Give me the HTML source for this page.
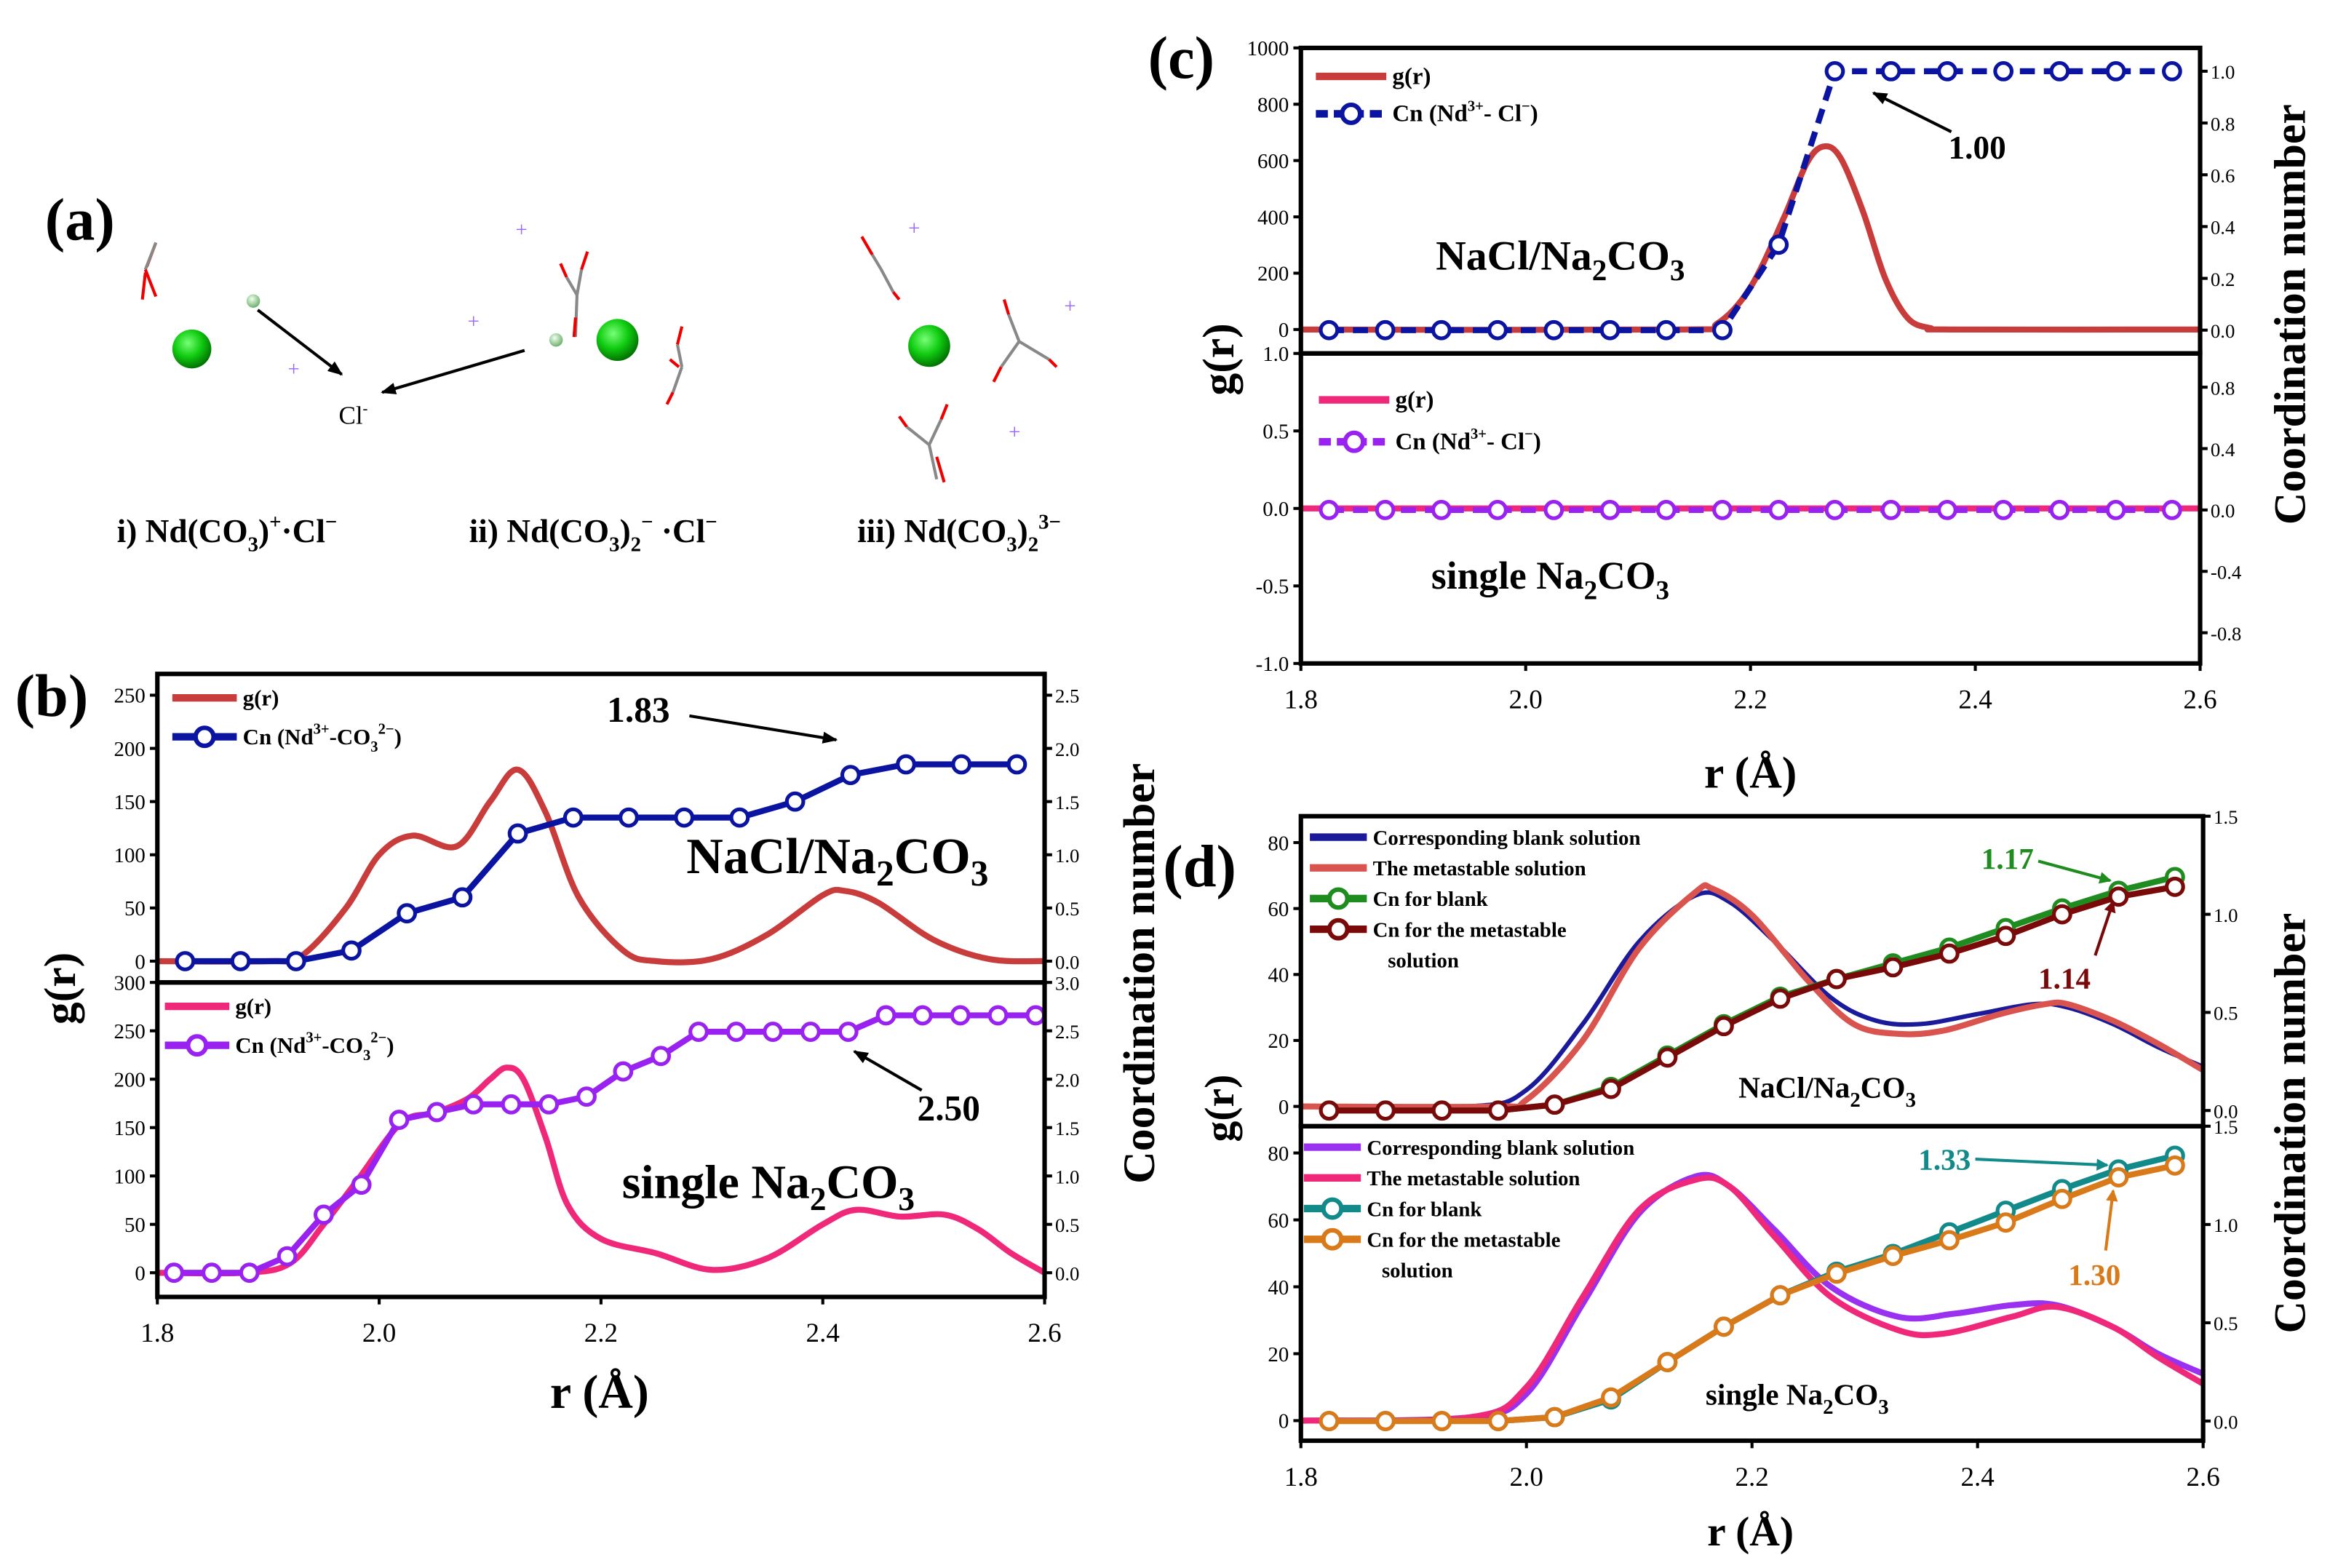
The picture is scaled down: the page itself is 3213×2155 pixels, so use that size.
<!DOCTYPE html>
<html><head><meta charset="utf-8">
<style>
html,body{margin:0;padding:0;background:#fff;}
svg{display:block;}
text{font-family:"Liberation Serif",serif;}
</style></head>
<body>
<svg id="fig" width="3213" height="2155" viewBox="0 0 1560 1047" preserveAspectRatio="none" xmlns="http://www.w3.org/2000/svg">
<rect width="1560" height="1047" fill="#fff"/>
<defs>
<marker id="ah" markerWidth="8" markerHeight="8" refX="7" refY="4" orient="auto" markerUnits="userSpaceOnUse"><path d="M0,0 L8,4 L0,8 Z" fill="context-stroke"/></marker>
<marker id="ahk" markerWidth="10" markerHeight="10" refX="9" refY="5" orient="auto" markerUnits="userSpaceOnUse"><path d="M0,1 L10,5 L0,9 Z" fill="#000"/></marker>
<radialGradient id="gs" cx="0.4" cy="0.35" r="0.7"><stop offset="0" stop-color="#7f7"/><stop offset="0.5" stop-color="#1c1"/><stop offset="1" stop-color="#060"/></radialGradient>
<radialGradient id="gs2" cx="0.4" cy="0.35" r="0.7"><stop offset="0" stop-color="#efe"/><stop offset="1" stop-color="#6a6"/></radialGradient>
</defs>

<!-- Panel a -->
<g>
<text x="30" y="160" font-size="40" font-weight="bold">(a)</text>
<circle cx="128" cy="233" r="13" fill="url(#gs)"/>
<circle cx="169" cy="201" r="4.5" fill="url(#gs2)"/>
<circle cx="412" cy="227" r="14" fill="url(#gs)"/>
<circle cx="371" cy="227" r="4.5" fill="url(#gs2)"/>
<circle cx="620" cy="231" r="14" fill="url(#gs)"/>
<g stroke-width="2" fill="none">
<path d="M98,178 L104,162" stroke="#e00"/><path d="M97,180 L104,162" stroke="#888"/><path d="M97,180 L104,198 M97,182 L95,200" stroke="#e00"/>
<path d="M385,197 L388,180 M385,197 L378,185 M385,197 L384,225" stroke="#888"/><path d="M388,180 L392,168 M378,185 L374,176 M384,212 L383,225" stroke="#e00"/>
<path d="M455,245 L452,230 M455,245 L449,262" stroke="#888"/><path d="M452,230 L455,218 M449,262 L445,270 M453,245 L447,240" stroke="#e00"/>
<path d="M588,180 L582,170 M588,180 L596,195" stroke="#888"/><path d="M582,170 L575,158 M596,195 L600,200" stroke="#e00"/>
<path d="M680,228 L673,210 M680,228 L700,240 M680,228 L668,245" stroke="#888"/><path d="M673,210 L670,200 M700,240 L705,245 M668,245 L663,255" stroke="#e00"/>
<path d="M620,297 L628,280 M620,297 L605,285 M620,297 L625,320" stroke="#888"/><path d="M628,280 L632,270 M605,285 L600,278 M625,305 L630,322" stroke="#e00"/>
</g>
<g fill="#96f" font-size="14" font-family="Liberation Sans,sans-serif">
<text x="344" y="158">+</text><text x="312" y="219">+</text><text x="192" y="251">+</text><text x="606" y="157">+</text><text x="710" y="209">+</text><text x="673" y="293">+</text>
</g>
<line x1="172" y1="207" x2="228" y2="250" stroke="#000" stroke-width="2" marker-end="url(#ahk)"/>
<line x1="350" y1="234" x2="255" y2="262" stroke="#000" stroke-width="2" marker-end="url(#ahk)"/>
<text x="226" y="283" font-size="17">Cl<tspan font-size="10" dy="-7">-</tspan></text>
<g font-size="22" font-weight="bold">
<text x="78" y="362">i) Nd(CO<tspan font-size="14" dy="6">3</tspan><tspan dy="-6">)</tspan><tspan font-size="14" dy="-9">+</tspan><tspan dy="9">·Cl</tspan><tspan font-size="14" dy="-9">−</tspan></text>
<text x="313" y="362">ii) Nd(CO<tspan font-size="14" dy="6">3</tspan><tspan dy="-6">)</tspan><tspan font-size="14" dy="6">2</tspan><tspan font-size="14" dy="-15">−</tspan><tspan dy="9"> ·Cl</tspan><tspan font-size="14" dy="-9">−</tspan></text>
<text x="572" y="362">iii) Nd(CO<tspan font-size="14" dy="6">3</tspan><tspan dy="-6">)</tspan><tspan font-size="14" dy="6">2</tspan><tspan font-size="14" dy="-15">3−</tspan></text>
</g>
</g>
<g id="charts"></g>
</svg>
<script>
// ---------- DATA ----------
const cnR16 = [1.825,1.875,1.925,1.975,2.025,2.075,2.125,2.175,2.225,2.275,2.325,2.375,2.425,2.475,2.525,2.575];
const xTicks = [1.8,2.0,2.2,2.4,2.6];
const xTickLabels = ["1.8","2.0","2.2","2.4","2.6"];
// panel b top
const bTopGrR = [1.80,1.90,1.93,1.97,2.00,2.03,2.07,2.10,2.125,2.15,2.18,2.22,2.25,2.30,2.35,2.40,2.42,2.45,2.50,2.55,2.60];
const bTopGrV = [0,0,5,50,100,118,108,150,180,140,60,10,0,2,25,62,66,55,20,2,0];
const bTopCn = [0,0,0,0.1,0.45,0.6,1.2,1.35,1.35,1.35,1.35,1.5,1.75,1.85,1.85,1.85];
// panel b bottom
const bBotGrR = [1.80,1.88,1.92,1.95,1.98,2.02,2.05,2.08,2.10,2.115,2.13,2.15,2.17,2.20,2.25,2.30,2.35,2.40,2.43,2.47,2.51,2.54,2.57,2.60];
const bBotGrV = [0,0,10,50,95,155,165,180,200,212,200,140,70,35,20,3,15,50,65,58,60,45,20,0];
const bBotCnR = [1.815,1.849,1.883,1.917,1.950,1.984,2.018,2.052,2.085,2.119,2.153,2.187,2.220,2.254,2.288,2.322,2.355,2.389,2.423,2.457,2.490,2.524,2.558,2.592];
const bBotCn = [0,0,0,0.17,0.6,0.91,1.58,1.66,1.74,1.74,1.74,1.82,2.08,2.24,2.49,2.49,2.49,2.49,2.49,2.66,2.66,2.66,2.66,2.66];
// panel c
const cTopGrR = [1.8,2.14,2.17,2.2,2.23,2.25,2.265,2.28,2.30,2.32,2.34,2.36,2.38,2.6];
const cTopGrV = [0,0,20,150,400,590,650,610,420,180,40,5,0,0];
const cTopCn = [0,0,0,0,0,0,0,0,0.33,1,1,1,1,1,1,1];
const cBotGrR = [1.8,2.6];
const cBotGrV = [0,0];
const cBotCn = [0,0,0,0,0,0,0,0,0,0,0,0,0,0,0,0];
// panel d top
const dTopBlankR = [1.8,1.95,2.0,2.05,2.10,2.15,2.18,2.22,2.27,2.31,2.35,2.40,2.45,2.48,2.52,2.56,2.6];
const dTopBlankV = [0,0,5,25,50,64,62,50,33,26,25,28,31,30,25,18,12];
const dTopMetaR = [1.8,1.97,2.0,2.05,2.10,2.15,2.165,2.2,2.25,2.29,2.33,2.37,2.42,2.46,2.48,2.52,2.56,2.6];
const dTopMetaV = [0,0,2,20,48,65,66,58,38,25,22,23,28,31,31,26,19,11];
const dTopCnBlank = [0,0,0,0,0.03,0.12,0.28,0.44,0.58,0.67,0.75,0.83,0.93,1.03,1.12,1.19];
const dTopCnMeta = [0,0,0,0,0.03,0.11,0.27,0.43,0.57,0.67,0.73,0.80,0.89,1.0,1.09,1.14];
// panel d bottom
const dBotBlankR = [1.8,1.95,2.0,2.05,2.10,2.15,2.18,2.22,2.27,2.33,2.38,2.43,2.47,2.52,2.56,2.6];
const dBotBlankV = [0,1,8,35,62,73,70,57,40,31,32,34.5,34.5,28,20,14];
const dBotMetaR = [1.8,1.95,2.0,2.05,2.10,2.15,2.18,2.22,2.27,2.33,2.37,2.43,2.47,2.52,2.56,2.6];
const dBotMetaV = [0,1,10,37,63,72,70,55,37,27,26,31,34,28,19,11];
const dBotCnBlank = [0,0,0,0,0.02,0.11,0.3,0.48,0.64,0.76,0.85,0.96,1.07,1.18,1.28,1.35];
const dBotCnMeta = [0,0,0,0,0.02,0.12,0.3,0.48,0.64,0.75,0.84,0.92,1.01,1.13,1.24,1.30];
// tick label arrays
const bTopL = [0,50,100,150,200,250], bTopRt = [0,0.5,1,1.5,2,2.5];
const bBotL = [0,50,100,150,200,250,300], bBotRt = [0,0.5,1,1.5,2,2.5,3];
const cTopL = [0,200,400,600,800,1000], cTopRt = [0,0.2,0.4,0.6,0.8,1.0];
const cBotL = [-1,-0.5,0,0.5,1], cBotRt = [-0.8,-0.4,0,0.4,0.8];
const dL = [0,20,40,60,80], dRt = [0,0.5,1,1.5];

// ---------- DRAW ----------
const NS = "http://www.w3.org/2000/svg";
const root = document.getElementById('charts');
function el(tag, attrs, parent){const e=document.createElementNS(NS,tag);for(const k in attrs)e.setAttribute(k,attrs[k]);(parent||root).appendChild(e);return e;}
function txt(x,y,s,size,anchor,parent,extra){const t=el('text',Object.assign({x:x,y:y,'font-size':size,'text-anchor':anchor||'start'},extra||{}),parent);t.textContent=s;return t;}
function smooth(pts){let d='M'+pts[0][0]+','+pts[0][1];for(let i=0;i<pts.length-1;i++){const p0=pts[i-1]||pts[i],p1=pts[i],p2=pts[i+1],p3=pts[i+2]||p2;const c1x=p1[0]+(p2[0]-p0[0])/6,c1y=p1[1]+(p2[1]-p0[1])/6,c2x=p2[0]-(p3[0]-p1[0])/6,c2y=p2[1]-(p3[1]-p1[1])/6;d+=' C'+c1x+','+c1y+' '+c2x+','+c2y+' '+p2[0]+','+p2[1];}return d;}
function fmt(v,dec){return v.toFixed(dec);}

function panel(cfg){
  const g=el('g',{});
  
  
  const X=r=>cfg.x0+(r-1.8)/0.8*(cfg.x1-cfg.x0);
  const YL=v=>cfg.yb-(v-cfg.lmin)/(cfg.lmax-cfg.lmin)*(cfg.yb-cfg.yt);
  const YR=v=>cfg.yb-(v-cfg.rmin)/(cfg.rmax-cfg.rmin)*(cfg.yb-cfg.yt);
  cfg.lt.forEach(v=>{const y=YL(v);el('line',{x1:cfg.x0,x2:cfg.x0-5,y1:y,y2:y,stroke:'#000','stroke-width':2},g);
    const t=txt(cfg.x0-8,y+5,fmt(v,cfg.ldec),14,'end',g);});
  cfg.rt.forEach(v=>{const y=YR(v);el('line',{x1:cfg.x1,x2:cfg.x1+5,y1:y,y2:y,stroke:'#000','stroke-width':2},g);
    const t=txt(cfg.x1+7,y+5,fmt(v,1),13,'start',g);});
  cfg.lines.forEach(s=>{const pts=s.r.map((r,i)=>[X(r),YL(s.v[i])]);
    const p=el('path',{d:smooth(pts),fill:'none',stroke:s.c,'stroke-width':s.w||4},g);
    });
  cfg.cns.forEach(s=>{const pts=s.r.map((r,i)=>[X(r),YR(s.v[i])]);
    const p=el('polyline',{points:pts.map(q=>q.join(',')).join(' '),fill:'none',stroke:s.c,'stroke-width':4},g);
    if(s.dash)p.setAttribute('stroke-dasharray','10,6');
    
    pts.forEach(q=>{const c=el('circle',{cx:q[0],cy:q[1],r:s.mr||5.5,fill:'#fff',stroke:s.c,'stroke-width':2.5},g);
      });});
  el('rect',{x:cfg.x0,y:cfg.yt,width:cfg.x1-cfg.x0,height:cfg.yb-cfg.yt,fill:'none',stroke:'#000','stroke-width':3},g);
  cfg.legend.forEach((L,i)=>{const y=cfg.ly+i*cfg.lstep;
    el('line',{x1:cfg.lx,x2:cfg.lx+cfg.lw,y1:y,y2:y,stroke:L.c,'stroke-width':5,'stroke-dasharray':L.dash?'8,4':'none'},g);
    if(L.m)el('circle',{cx:cfg.lx+cfg.lw/2,cy:y,r:6,fill:'#fff',stroke:L.c,'stroke-width':3},g);
    const t=el('text',{x:cfg.lx+cfg.lw+4,y:y+5,'font-size':cfg.lfs||16,'font-weight':'bold'},g);t.innerHTML=L.t;
    
    if(L.t2){const t2=el('text',{x:cfg.lx+cfg.lw+14,y:y+5+cfg.lstep,'font-size':cfg.lfs||16,'font-weight':'bold'},g);t2.textContent=L.t2;}
  });
  if(cfg.xaxis){xTicks.forEach((v,i)=>{const x=X(v);el('line',{x1:x,x2:x,y1:cfg.yb,y2:cfg.yb+5,stroke:'#000','stroke-width':2},g);
    const t=txt(x,cfg.yb+30,xTickLabels[i],18,'middle',g);});}
  return g;
}
const red='#c83c3c', blue='#0a14a0';
panel({name:'panel-b-top',x0:105,x1:697,yt:450,yb:656,lmin:-20,lmax:270,rmin:-0.2,rmax:2.7,lt:bTopL,ldec:0,rt:bTopRt,
  lines:[{r:bTopGrR,v:bTopGrV,c:red,name:'b-top-gr-line'}],cns:[{r:cnR16,v:bTopCn,c:blue,name:'b-top-cn'}],
  legend:[{c:red,t:'g(r)'},{c:blue,m:1,t:'Cn (Nd<tspan font-size="10" dy="-7">3+</tspan><tspan dy="7">-CO</tspan><tspan font-size="10" dy="5">3</tspan><tspan font-size="10" dy="-12">2−</tspan><tspan dy="7">)</tspan>'}],lx:115,ly:466,lstep:26,lw:43,lfs:15});
panel({name:'panel-b-bottom',x0:105,x1:697,yt:656,yb:866,lmin:-25,lmax:300,rmin:-0.25,rmax:3.0,lt:bBotL,ldec:0,rt:bBotRt,xaxis:1,
  lines:[{r:bBotGrR,v:bBotGrV,c:'#f0287a',name:'b-bottom-gr-line'}],cns:[{r:bBotCnR,v:bBotCn,c:'#9a22f0',name:'b-bottom-cn'}],
  legend:[{c:'#f0287a',t:'g(r)'},{c:'#9a22f0',m:1,t:'Cn (Nd<tspan font-size="10" dy="-7">3+</tspan><tspan dy="7">-CO</tspan><tspan font-size="10" dy="5">3</tspan><tspan font-size="10" dy="-12">2−</tspan><tspan dy="7">)</tspan>'}],lx:110,ly:672,lstep:26,lw:43,lfs:15});
panel({name:'panel-c-top',x0:868,x1:1468,yt:32,yb:236,lmin:-85,lmax:1000,rmin:-0.09,rmax:1.09,lt:cTopL,ldec:0,rt:cTopRt,
  lines:[{r:cTopGrR,v:cTopGrV,c:red,name:'c-top-gr-line'}],cns:[{r:cnR16,v:cTopCn,c:blue,dash:1,name:'c-top-cn'}],
  legend:[{c:red,t:'g(r)'},{c:blue,m:1,dash:1,t:'Cn (Nd<tspan font-size="10" dy="-7">3+</tspan><tspan dy="7">- Cl</tspan><tspan font-size="10" dy="-7">−</tspan><tspan dy="7">)</tspan>'}],lx:878,ly:51,lstep:25,lw:47,lfs:16});
panel({name:'panel-c-bottom',x0:868,x1:1468,yt:236,yb:443,lmin:-1.0,lmax:1.0,rmin:-1.0,rmax:1.02,lt:cBotL,ldec:1,rt:cBotRt,xaxis:1,
  lines:[{r:cBotGrR,v:cBotGrV,c:'#f0287a',name:'c-bottom-gr-line'}],cns:[{r:cnR16,v:cBotCn,c:'#9a22f0',dash:1,name:'c-bottom-cn'}],
  legend:[{c:'#f0287a',t:'g(r)'},{c:'#9a22f0',m:1,dash:1,t:' Cn (Nd<tspan font-size="10" dy="-7">3+</tspan><tspan dy="7">- Cl</tspan><tspan font-size="10" dy="-7">−</tspan><tspan dy="7">)</tspan>'}],lx:880,ly:267,lstep:28,lw:47,lfs:16});
panel({name:'panel-d-top',x0:868,x1:1470,yt:545,yb:752,lmin:-6,lmax:88,rmin:-0.08,rmax:1.5,lt:dL,ldec:0,rt:dRt,
  lines:[{r:dTopBlankR,v:dTopBlankV,c:'#1a1a9a',w:3,name:'d-top-blank-gr'},{r:dTopMetaR,v:dTopMetaV,c:'#d9534f',name:'d-top-meta-gr'}],
  cns:[{r:cnR16,v:dTopCnBlank,c:'#1e8c1e',name:'d-top-cn-blank'},{r:cnR16,v:dTopCnMeta,c:'#7a0a0a',name:'d-top-cn-meta'}],
  legend:[{c:'#1a1a9a',t:'Corresponding blank solution'},{c:'#d9534f',t:'The metastable solution'},{c:'#1e8c1e',m:1,t:' Cn for blank'},{c:'#7a0a0a',m:1,t:'Cn for the metastable',t2:'solution'}],lx:874,ly:559,lstep:20.5,lw:38,lfs:14});
panel({name:'panel-d-bottom',x0:868,x1:1470,yt:752,yb:962,lmin:-6,lmax:88,rmin:-0.1,rmax:1.5,lt:dL,ldec:0,rt:dRt,xaxis:1,
  lines:[{r:dBotBlankR,v:dBotBlankV,c:'#9a30f0',name:'d-bottom-blank-gr'},{r:dBotMetaR,v:dBotMetaV,c:'#f0287a',name:'d-bottom-meta-gr'}],
  cns:[{r:cnR16,v:dBotCnBlank,c:'#138a8a',name:'d-bottom-cn-blank'},{r:cnR16,v:dBotCnMeta,c:'#d97a1a',name:'d-bottom-cn-meta'}],
  legend:[{c:'#9a30f0',t:'Corresponding blank solution'},{c:'#f0287a',t:'The metastable solution'},{c:'#138a8a',m:1,t:' Cn for blank'},{c:'#d97a1a',m:1,t:'Cn for the metastable',t2:'solution'}],lx:870,ly:766,lstep:20.5,lw:38,lfs:14});
</script>
<script>
(function(){
const NS="http://www.w3.org/2000/svg";const svg=document.getElementById('fig');
function add(html){const g=document.createElementNS(NS,'g');g.innerHTML=html;svg.appendChild(g);}
add(`
<text x="10" y="478" font-size="40" font-weight="bold">(b)</text>
<text x="766" y="52" font-size="40" font-weight="bold">(c)</text>
<text x="776" y="592" font-size="40" font-weight="bold">(d)</text>
<text transform="translate(50,660) rotate(-90)" font-size="30" font-weight="bold" text-anchor="middle">g(r)</text>
<text transform="translate(770,650) rotate(-90)" font-size="30" font-weight="bold" text-anchor="middle">Coordination number</text>
<text x="400" y="940" font-size="32" font-weight="bold" text-anchor="middle">r (Å)</text>
<text transform="translate(823,240) rotate(-90)" font-size="30" font-weight="bold" text-anchor="middle">g(r)</text>
<text transform="translate(1538,210) rotate(-90)" font-size="30" font-weight="bold" text-anchor="middle">Coordination number</text>
<text x="1168" y="526" font-size="30" font-weight="bold" text-anchor="middle">r (Å)</text>
<text transform="translate(823,740) rotate(-90)" font-size="28" font-weight="bold" text-anchor="middle">g(r)</text>
<text transform="translate(1538,750) rotate(-90)" font-size="30" font-weight="bold" text-anchor="middle">Coordination number</text>
<text x="1168" y="1032" font-size="28" font-weight="bold" text-anchor="middle">r (Å)</text>

<text x="405" y="482" font-size="24" font-weight="bold">1.83</text>
<line x1="460" y1="478" x2="558" y2="494" stroke="#000" stroke-width="2" marker-end="url(#ahk)"/>
<text x="458" y="583" font-size="34" font-weight="bold">NaCl/Na<tspan font-size="24" dy="8">2</tspan><tspan dy="-8">CO</tspan><tspan font-size="24" dy="8">3</tspan></text>
<text x="612" y="748" font-size="24" font-weight="bold">2.50</text>
<line x1="615" y1="728" x2="570" y2="702" stroke="#000" stroke-width="2" marker-end="url(#ahk)"/>
<text x="415" y="800" font-size="32" font-weight="bold">single Na<tspan font-size="22" dy="8">2</tspan><tspan dy="-8">CO</tspan><tspan font-size="22" dy="8">3</tspan></text>

<text x="958" y="180" font-size="28" font-weight="bold">NaCl/Na<tspan font-size="20" dy="7">2</tspan><tspan dy="-7">CO</tspan><tspan font-size="20" dy="7">3</tspan></text>
<text x="1300" y="106" font-size="22" font-weight="bold">1.00</text>
<line x1="1302" y1="88" x2="1250" y2="62" stroke="#000" stroke-width="2" marker-end="url(#ahk)"/>
<text x="955" y="393" font-size="26" font-weight="bold">single Na<tspan font-size="18" dy="7">2</tspan><tspan dy="-7">CO</tspan><tspan font-size="18" dy="7">3</tspan></text>

<text x="1322" y="580" font-size="20" font-weight="bold" fill="#1e8c1e">1.17</text>
<line x1="1360" y1="575" x2="1408" y2="588" stroke="#1e8c1e" stroke-width="2" marker-end="url(#ah)"/>
<text x="1360" y="660" font-size="20" font-weight="bold" fill="#7a0a0a">1.14</text>
<line x1="1398" y1="638" x2="1410" y2="602" stroke="#7a0a0a" stroke-width="2" marker-end="url(#ah)"/>
<text x="1160" y="733" font-size="20" font-weight="bold">NaCl/Na<tspan font-size="14" dy="6">2</tspan><tspan dy="-6">CO</tspan><tspan font-size="14" dy="6">3</tspan></text>
<text x="1280" y="781" font-size="20" font-weight="bold" fill="#138a8a">1.33</text>
<line x1="1318" y1="774" x2="1406" y2="778" stroke="#138a8a" stroke-width="2" marker-end="url(#ah)"/>
<text x="1380" y="858" font-size="20" font-weight="bold" fill="#d97a1a">1.30</text>
<line x1="1405" y1="835" x2="1410" y2="795" stroke="#d97a1a" stroke-width="2" marker-end="url(#ah)"/>
<text x="1138" y="938" font-size="20" font-weight="bold">single Na<tspan font-size="14" dy="6">2</tspan><tspan dy="-6">CO</tspan><tspan font-size="14" dy="6">3</tspan></text>
`);
})();
</script>
</body></html>
